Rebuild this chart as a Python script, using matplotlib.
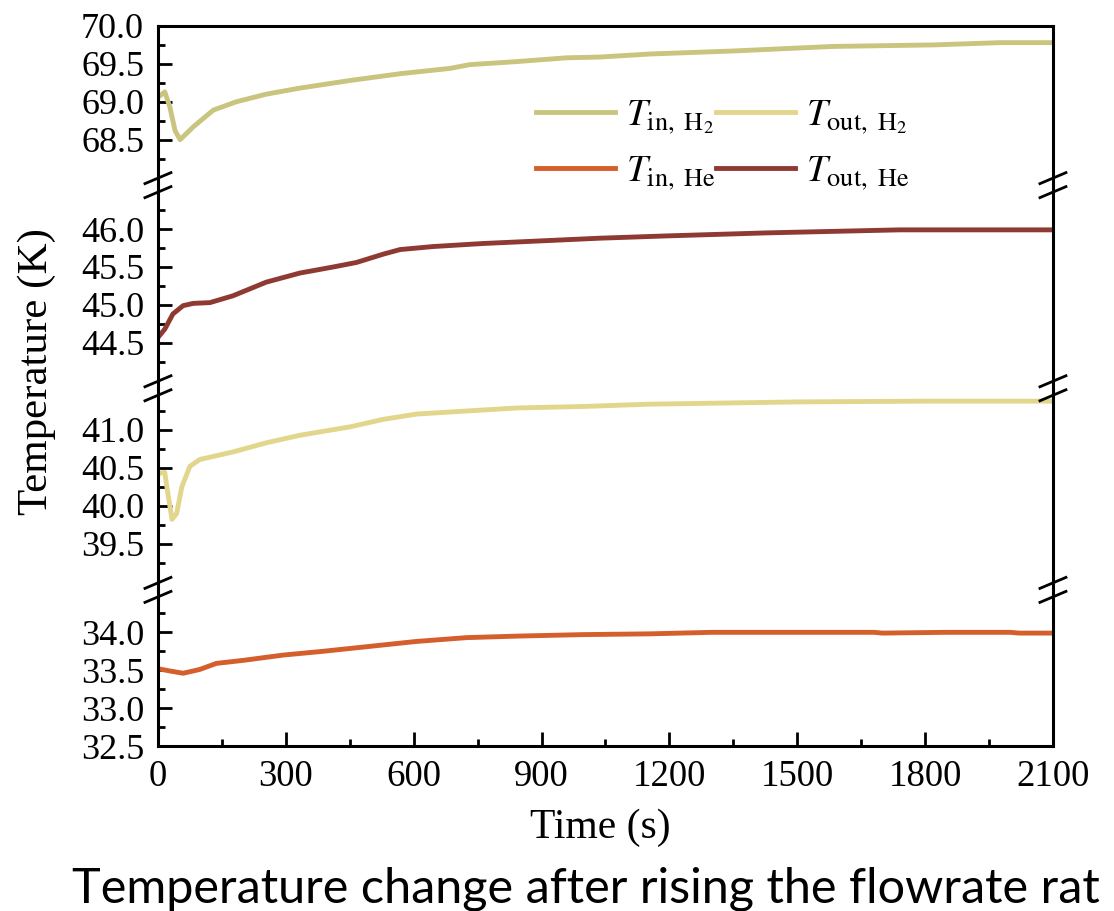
import matplotlib
matplotlib.use("Agg")
import matplotlib.pyplot as plt
from matplotlib.lines import Line2D
from matplotlib.ticker import FixedLocator

# T_in, H2 (top panel)
t_in_h2 = [0, 5, 16, 28, 40, 52, 83, 130, 184, 254, 333, 450, 568, 685, 732,
           842, 959, 1037, 1154, 1350, 1584, 1819, 1976, 2100]
T_in_h2 = [69.06, 69.08, 69.13, 68.93, 68.62, 68.50, 68.67, 68.89, 69.00, 69.10,
           69.18, 69.28, 69.37, 69.44, 69.49, 69.53, 69.58, 69.59, 69.63, 69.67,
           69.73, 69.75, 69.78, 69.78]

# T_out, He (second panel)
t_out_he = [0, 16, 35, 59, 83, 122, 176, 254, 333, 411, 466, 529, 568, 646, 763,
            920, 1037, 1193, 1428, 1741, 2100]
T_out_he = [44.57, 44.68, 44.88, 44.99, 45.02, 45.03, 45.12, 45.30, 45.42, 45.50,
            45.56, 45.67, 45.73, 45.77, 45.81, 45.85, 45.88, 45.91, 45.95, 45.99,
            45.99]

# T_out, H2 (third panel)
t_out_h2 = [0, 5, 16, 23, 33, 44, 56, 75, 98, 176, 254, 333, 450, 529, 607, 724,
            842, 998, 1154, 1500, 1800, 2100]
T_out_h2 = [40.42, 40.43, 40.44, 40.17, 39.82, 39.90, 40.25, 40.52, 40.61, 40.71,
            40.83, 40.93, 41.04, 41.14, 41.21, 41.25, 41.29, 41.31, 41.34, 41.37,
            41.38, 41.38]

# T_in, He (bottom panel)
t_in_he = [0, 28, 59, 98, 137, 200, 294, 388, 489, 607, 724, 842, 998, 1154,
           1300, 1500, 1680, 1700, 1850, 2000, 2020, 2100]
T_in_he = [33.52, 33.49, 33.46, 33.51, 33.59, 33.63, 33.70, 33.75, 33.81, 33.88,
           33.93, 33.95, 33.97, 33.98, 34.00, 34.00, 34.00, 33.99, 34.00, 34.00,
           33.99, 33.99]

# axis segments (top to bottom)
seg_lims = [(67.9, 70.0), (43.9, 46.58), (38.89, 41.55), (32.5, 34.56)]
seg_major = [[68.5, 69.0, 69.5, 70.0], [44.5, 45.0, 45.5, 46.0],
             [39.5, 40.0, 40.5, 41.0], [32.5, 33.0, 33.5, 34.0]]
seg_minor = [[68.25, 68.75, 69.25, 69.75], [44.25, 44.75, 45.25, 45.75, 46.25],
             [39.25, 39.75, 40.25, 40.75, 41.25], [32.75, 33.25, 33.75, 34.25]]
x_ticks = [0, 300, 600, 900, 1200, 1500, 1800, 2100]

c_in_h2 = "#c9c47e"
c_out_h2 = "#e2d68c"
c_in_he = "#d45e2c"
c_out_he = "#8e3a32"

plt.rcParams["font.family"] = "Liberation Serif"
plt.rcParams["mathtext.fontset"] = "stix"

fig = plt.figure(figsize=(11.14, 9.11), dpi=100)
gs = fig.add_gridspec(4, 1, height_ratios=[hi - lo for lo, hi in seg_lims],
                      hspace=0, left=0.1418, right=0.9452, top=0.9715, bottom=0.1811)
axes = [fig.add_subplot(gs[i]) for i in range(4)]
for a in axes[:-1]:
    a.sharex(axes[-1])

lw = 3.5
l1, = axes[0].plot(t_in_h2, T_in_h2, color=c_in_h2, lw=lw, label=r"$T_{\mathrm{in,\ H_2}}$")
l4, = axes[1].plot(t_out_he, T_out_he, color=c_out_he, lw=lw, label=r"$T_{\mathrm{out,\ He}}$")
l2, = axes[2].plot(t_out_h2, T_out_h2, color=c_out_h2, lw=lw, label=r"$T_{\mathrm{out,\ H_2}}$")
l3, = axes[3].plot(t_in_he, T_in_he, color=c_in_he, lw=lw, label=r"$T_{\mathrm{in,\ He}}$")

for i, a in enumerate(axes):
    a.set_ylim(*seg_lims[i])
    a.set_xlim(0, 2100)
    a.yaxis.set_major_locator(FixedLocator(seg_major[i]))
    a.yaxis.set_minor_locator(FixedLocator(seg_minor[i]))
    a.set_yticklabels([f"{v:.1f}" for v in seg_major[i]])
    a.tick_params(axis="y", which="major", direction="in", length=10, width=2,
                  labelsize=26, pad=10, right=False)
    a.tick_params(axis="y", which="minor", direction="in", length=5, width=2, right=False)
    for s in a.spines.values():
        s.set_linewidth(2.2)
    if i > 0:
        a.spines["top"].set_visible(False)
    if i < 3:
        a.spines["bottom"].set_visible(False)
        a.tick_params(axis="x", which="both", bottom=False, labelbottom=False)

axes[3].xaxis.set_major_locator(FixedLocator(x_ticks))
axes[3].xaxis.set_minor_locator(FixedLocator([x + 150 for x in x_ticks[:-1]]))
axes[3].tick_params(axis="x", which="major", direction="in", length=10, width=2,
                    labelsize=26.5, pad=10, top=False)
axes[3].tick_params(axis="x", which="minor", direction="in", length=5, width=2, top=False)

# break marks on both spines
W, H = fig.get_size_inches() * fig.dpi
for a in axes[1:]:
    pos = a.get_position()
    yb = pos.y1
    for xb in (pos.x0, pos.x1):
        for dy in (-7, 7):
            fig.add_artist(Line2D([xb - 13 / W, xb + 13 / W],
                                  [yb + (dy - 5.5) / H, yb + (dy + 5.5) / H],
                                  color="black", lw=2, transform=fig.transFigure))

fig.legend(handles=[l1, l3, l2, l4], ncol=2, loc="upper left",
           bbox_to_anchor=(0.481, 0.892), frameon=False, fontsize=27,
           handlelength=2.1, handletextpad=0.3, columnspacing=0.0,
           labelspacing=0.5, borderpad=0, borderaxespad=0)

fig.text(0.033, 1 - 372 / 911, "Temperature (K)", rotation=90, ha="center",
         va="center", fontsize=31)
fig.text(0.539, 0.08, "Time (s)", ha="center", va="baseline", fontsize=30)
fig.text(0.0646, 0.009, "Temperature change after rising the flowrate rat",
         ha="left", va="baseline", fontsize=35, family="Lato")

fig.savefig("out.png", dpi=100)
